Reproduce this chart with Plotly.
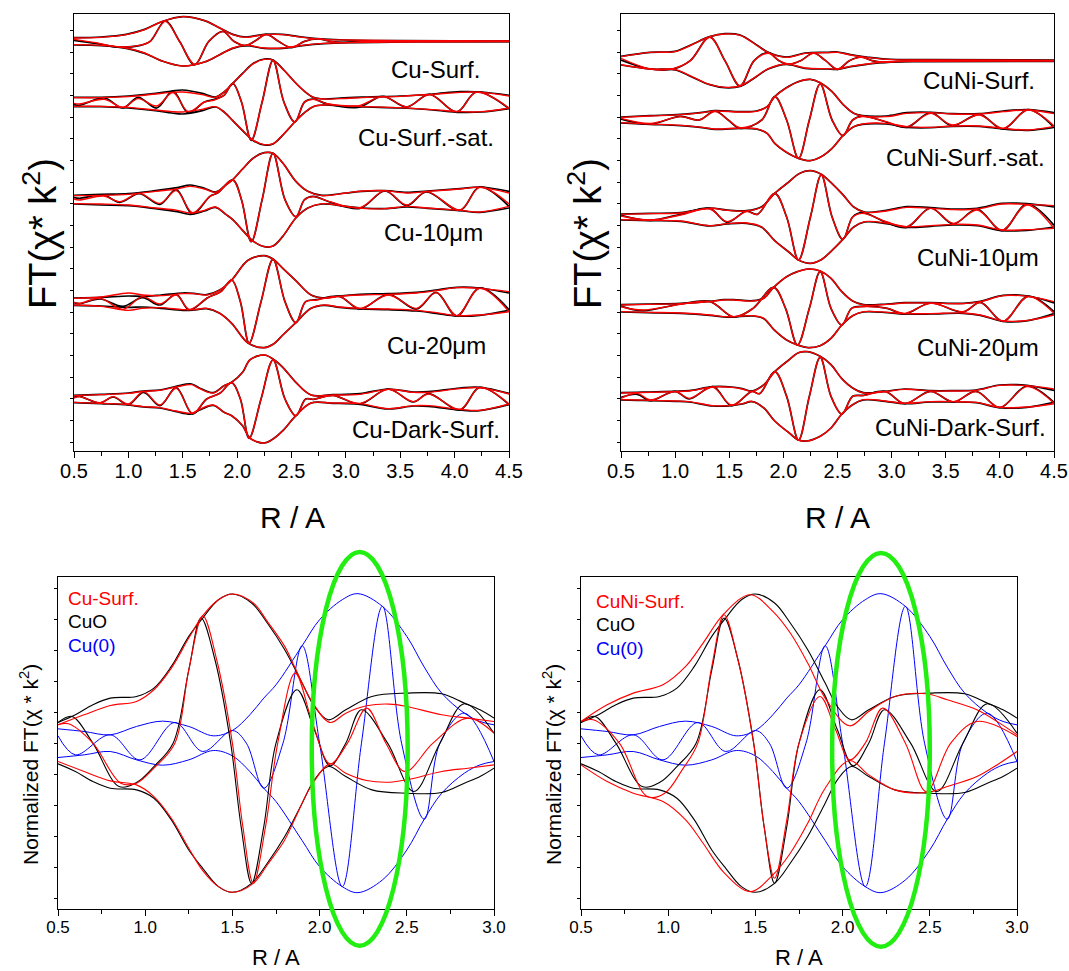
import plotly.graph_objects as go

W, H = 1069, 971
FONT = "Arial, 'Liberation Sans', Helvetica, sans-serif"

# ------------------------------------------------------------------
# TOP PANELS  (|FT| envelope and Im part, arbitrary units, per sample)
# each list: (R, value)
# ------------------------------------------------------------------
CU_LABELS = ["Cu-Surf.", "Cu-Surf.-sat.", "Cu-10\u03bcm", "Cu-20\u03bcm", "Cu-Dark-Surf."]
CU_OFFSETS = [1229, 1047, 754, 448, 156]

CUNI_LABELS = ["CuNi-Surf.", "CuNi-Surf.-sat.", "CuNi-10\u03bcm", "CuNi-20\u03bcm", "CuNi-Dark-Surf."]
CUNI_OFFSETS = [1171, 993, 702, 428, 164]

# ---- Cu-Surf. ----
cs_env_dat = [(0.50,11),(0.75,13),(0.98,21),(1.15,36),(1.30,58),(1.50,74),(1.70,62),(1.84,40),(1.96,21),(2.08,13),(2.25,21),(2.42,21),(2.60,13),(2.80,7),(3.00,4),(3.50,2),(4.50,1)]
cs_im_dat = [(0.50,3),(0.70,-6),(0.90,-17),(1.10,-13),(1.20,0),(1.34,61),(1.47,0),(1.61,-70),(1.74,0),(1.87,30),(1.97,0),(2.08,-13),(2.16,0),(2.27,21),(2.38,0),(2.50,-19),(2.62,0),(2.74,7),(2.86,0),(2.98,-3),(3.20,0),(4.50,0)]
cs_env_fit = [(0.50,10),(0.75,12),(0.98,20),(1.15,35),(1.30,58),(1.50,74),(1.70,62),(1.84,40),(1.96,20),(2.08,12),(2.25,20),(2.42,20),(2.60,12),(2.80,6),(3.00,4),(3.50,2),(4.50,1)]
cs_im_fit = [(0.50,6),(0.70,-4),(0.90,-16),(1.10,-12),(1.20,0),(1.34,60),(1.47,0),(1.61,-69),(1.74,0),(1.87,29),(1.97,0),(2.08,-12),(2.16,0),(2.27,20),(2.38,0),(2.50,-18),(2.62,0),(2.74,8),(2.86,0),(2.98,-4),(3.20,0),(4.50,0)]

# ---- Cu-Surf.-sat. ----
css_env_dat = [(0.50,14),(0.75,14),(1.00,18),(1.25,26),(1.40,33),(1.50,36),(1.68,26),(1.80,15),(1.88,30),(1.96,56),(2.05,86),(2.15,116),(2.25,129),(2.33,126),(2.43,96),(2.53,60),(2.62,32),(2.70,14),(2.80,9),(2.95,12),(3.20,15),(3.50,18),(3.80,24),(4.05,31),(4.25,30),(4.50,20)]
css_im_dat = [(0.50,-8),(0.55,-10),(0.78,12),(0.95,-18),(1.09,14),(1.26,-18),(1.41,33),(1.55,-32),(1.70,0),(1.79,8),(1.88,20),(1.96,56),(2.04,0),(2.13,-115),(2.23,0),(2.33,125),(2.43,0),(2.53,-60),(2.62,0),(2.70,9),(2.82,-5),(3.11,-16),(3.34,17),(3.56,-15),(3.77,23),(4.02,-30),(4.20,30),(4.50,-20)]
css_env_fit = [(0.50,13),(0.75,13),(1.00,16),(1.25,24),(1.40,29),(1.50,30),(1.68,22),(1.80,14),(1.88,30),(1.96,56),(2.05,85),(2.15,115),(2.25,128),(2.33,125),(2.43,95),(2.53,60),(2.62,32),(2.70,14),(2.80,9),(2.95,10),(3.20,14),(3.50,17),(3.80,23),(4.05,29),(4.25,29),(4.50,18)]
css_im_fit = [(0.50,-4),(0.55,-6),(0.78,8),(0.95,-16),(1.09,10),(1.26,-12),(1.41,28),(1.55,-29),(1.70,0),(1.79,6),(1.88,20),(1.96,56),(2.04,0),(2.13,-114),(2.23,0),(2.33,124),(2.43,0),(2.53,-60),(2.62,0),(2.70,8),(2.82,-4),(3.11,-12),(3.34,16),(3.56,-14),(3.77,22),(4.02,-29),(4.20,29),(4.50,-18)]

# ---- Cu-10um ----
c10_env_dat = [(0.50,13),(0.75,16),(1.00,18),(1.25,27),(1.45,36),(1.57,44),(1.70,34),(1.80,23),(1.90,45),(1.96,60),(2.05,92),(2.15,125),(2.25,141),(2.33,139),(2.42,110),(2.54,55),(2.65,25),(2.78,13),(3.00,20),(3.15,25),(3.36,27),(3.56,22),(3.75,26),(4.05,33),(4.23,38),(4.50,25)]
c10_im_dat = [(0.50,6),(0.55,4),(0.77,14),(0.92,-8),(1.10,18),(1.29,-14),(1.44,30),(1.59,-43),(1.75,10),(1.82,20),(1.96,59),(2.04,0),(2.13,-126),(2.23,0),(2.33,139),(2.44,0),(2.54,-51),(2.62,0),(2.70,10),(2.85,-7),(3.13,-26),(3.36,26),(3.56,-18),(3.74,23),(4.05,-32),(4.23,38),(4.50,-20)]
c10_env_fit = [(0.50,12),(0.75,13),(1.00,16),(1.25,25),(1.45,32),(1.57,40),(1.70,32),(1.80,22),(1.90,45),(1.96,60),(2.05,92),(2.15,125),(2.25,141),(2.33,139),(2.42,110),(2.54,55),(2.65,25),(2.78,12),(3.00,20),(3.15,26),(3.36,27),(3.56,20),(3.75,25),(4.05,32),(4.23,37),(4.50,20)]
c10_im_fit = [(0.50,2),(0.55,-1),(0.77,11),(0.92,-6),(1.10,19),(1.29,-11),(1.44,27),(1.59,-39),(1.75,10),(1.82,20),(1.96,59),(2.04,0),(2.13,-126),(2.23,0),(2.33,139),(2.44,0),(2.54,-51),(2.62,0),(2.70,9),(2.85,-6),(3.13,-24),(3.36,27),(3.56,-16),(3.74,24),(4.05,-31),(4.23,37),(4.50,-13)]

# ---- Cu-20um ----
c20_env_dat = [(0.50,11),(0.75,13),(1.00,17),(1.13,16),(1.30,20),(1.50,26),(1.60,25),(1.72,21),(1.84,35),(1.95,65),(2.10,124),(2.25,138),(2.33,128),(2.42,100),(2.54,63),(2.68,20),(2.80,11),(2.94,17),(3.13,22),(3.39,24),(3.65,28),(3.83,35),(4.02,43),(4.23,41),(4.50,26)]
c20_im_dat = [(0.50,-3),(0.55,-6),(0.74,8),(0.95,-14),(1.13,12),(1.29,-10),(1.44,22),(1.56,-25),(1.73,12),(1.85,30),(1.95,65),(2.03,0),(2.11,-124),(2.22,0),(2.33,127),(2.44,0),(2.54,-63),(2.63,0),(2.73,6),(2.94,16),(3.13,-22),(3.39,22),(3.65,-22),(3.83,28),(4.02,-43),(4.23,41),(4.50,-24)]
c20_env_fit = [(0.50,10),(0.75,14),(1.00,26),(1.13,20),(1.30,18),(1.50,24),(1.60,24),(1.72,20),(1.84,35),(1.95,65),(2.10,124),(2.25,138),(2.33,128),(2.42,100),(2.54,63),(2.68,20),(2.80,10),(2.94,16),(3.13,20),(3.39,22),(3.65,26),(3.83,33),(4.02,42),(4.23,40),(4.50,30)]
c20_im_fit = [(0.50,-2),(0.55,-5),(0.74,10),(0.95,-23),(1.13,15),(1.29,-7),(1.44,20),(1.56,-23),(1.73,12),(1.85,30),(1.95,65),(2.03,0),(2.11,-124),(2.22,0),(2.33,127),(2.44,0),(2.54,-63),(2.63,0),(2.73,5),(2.94,15),(3.13,-20),(3.39,20),(3.65,-20),(3.83,27),(4.02,-42),(4.23,40),(4.50,-30)]

# ---- Cu-Dark-Surf. ----
cd_env_dat = [(0.50,11),(0.75,14),(1.00,18),(1.14,24),(1.29,27),(1.44,38),(1.58,45),(1.65,34),(1.78,19),(1.88,40),(1.95,50),(2.05,80),(2.12,118),(2.25,132),(2.33,120),(2.42,95),(2.54,50),(2.68,12),(2.88,13),(3.13,16),(3.39,30),(3.62,21),(3.76,22),(4.05,33),(4.23,35),(4.50,17)]
cd_im_dat = [(0.50,5),(0.55,8),(0.74,-12),(0.86,6),(1.00,-17),(1.14,20),(1.29,-20),(1.44,34),(1.59,-45),(1.72,0),(1.84,17),(1.95,49),(2.03,0),(2.11,-118),(2.22,0),(2.33,117),(2.44,0),(2.54,-50),(2.63,0),(2.70,-1),(2.88,11),(3.13,-15),(3.39,30),(3.62,-9),(3.76,16),(4.05,-33),(4.23,35),(4.50,-17)]
cd_env_fit = [(0.50,10),(0.75,13),(1.00,17),(1.14,23),(1.29,26),(1.44,36),(1.58,43),(1.65,32),(1.78,18),(1.88,40),(1.95,50),(2.05,80),(2.12,118),(2.25,132),(2.33,120),(2.42,95),(2.54,50),(2.68,12),(2.88,12),(3.13,14),(3.39,29),(3.62,20),(3.76,20),(4.05,31),(4.23,34),(4.50,15)]
cd_im_fit = [(0.50,3),(0.55,7),(0.74,-11),(0.86,7),(1.00,-15),(1.14,22),(1.29,-18),(1.44,32),(1.59,-43),(1.72,0),(1.84,17),(1.95,49),(2.03,0),(2.11,-118),(2.22,0),(2.33,117),(2.44,0),(2.54,-50),(2.63,0),(2.70,-1),(2.88,10),(3.13,-13),(3.39,29),(3.62,-8),(3.76,15),(4.05,-31),(4.23,34),(4.50,-15)]

# ---- CuNi-Surf. ----
ns_env_dat = [(0.50,13),(0.77,25),(1.00,28),(1.15,48),(1.32,72),(1.46,81),(1.60,77),(1.75,48),(1.86,25),(2.03,11),(2.20,23),(2.40,25),(2.50,26),(2.62,18),(2.77,11),(2.95,5),(3.30,3),(4.50,2)]
ns_im_dat = [(0.50,2),(0.77,-25),(0.98,-25),(1.14,0),(1.32,71),(1.46,0),(1.60,-76),(1.73,0),(1.86,24),(1.96,0),(2.05,-11),(2.16,0),(2.28,23),(2.39,0),(2.50,-26),(2.61,0),(2.72,11),(2.82,0),(2.92,-5),(3.20,0),(4.50,-1)]
ns_env_fit = [(0.50,12),(0.77,25),(1.00,27),(1.15,47),(1.32,72),(1.46,80),(1.60,76),(1.75,47),(1.86,24),(2.03,10),(2.20,22),(2.40,24),(2.50,25),(2.62,17),(2.77,10),(2.95,4),(3.30,2),(4.50,1)]
ns_im_fit = [(0.50,7),(0.77,-25),(0.98,-24),(1.14,0),(1.32,70),(1.46,0),(1.60,-75),(1.73,0),(1.86,22),(1.96,0),(2.05,-10),(2.16,0),(2.28,22),(2.39,0),(2.50,-25),(2.61,0),(2.72,10),(2.82,0),(2.92,-4),(3.20,0),(4.50,0)]

# ---- CuNi-Surf.-sat. ----
nss_env_dat = [(0.50,9),(0.77,13),(1.05,17),(1.25,23),(1.37,28),(1.60,25),(1.75,27),(1.85,40),(1.92,70),(2.02,95),(2.14,115),(2.25,122),(2.34,112),(2.45,85),(2.55,47),(2.65,20),(2.73,13),(2.95,12),(3.14,22),(3.36,23),(3.56,19),(3.81,19),(4.03,27),(4.26,31),(4.50,22)]
nss_im_dat = [(0.50,3),(0.77,-12),(1.05,11),(1.22,0),(1.37,27),(1.49,0),(1.60,-25),(1.80,0),(1.92,70),(2.03,0),(2.14,-115),(2.24,0),(2.34,108),(2.45,0),(2.55,-47),(2.64,0),(2.73,12),(2.95,-6),(3.14,-22),(3.36,22),(3.56,-17),(3.81,17),(4.03,-27),(4.26,31),(4.50,-22)]
nss_env_fit = [(0.50,8),(0.77,12),(1.05,16),(1.25,22),(1.37,27),(1.60,24),(1.75,26),(1.85,40),(1.92,70),(2.02,95),(2.14,115),(2.25,122),(2.34,112),(2.45,85),(2.55,47),(2.65,20),(2.73,12),(2.95,10),(3.14,20),(3.36,22),(3.56,18),(3.81,18),(4.03,25),(4.26,30),(4.50,19)]
nss_im_fit = [(0.50,5),(0.77,-10),(1.05,10),(1.22,0),(1.37,25),(1.49,0),(1.60,-23),(1.80,0),(1.92,70),(2.03,0),(2.14,-115),(2.24,0),(2.34,108),(2.45,0),(2.55,-47),(2.64,0),(2.73,10),(2.95,-5),(3.14,-20),(3.36,20),(3.56,-15),(3.81,15),(4.03,-25),(4.26,30),(4.50,-18)]

# ---- CuNi-10um ----
n10_env_dat = [(0.50,9),(0.77,11),(1.05,13),(1.32,27),(1.48,21),(1.66,19),(1.80,31),(1.92,71),(2.05,105),(2.14,129),(2.25,139),(2.35,128),(2.45,100),(2.55,67),(2.65,30),(2.75,15),(2.95,20),(3.14,31),(3.36,28),(3.57,24),(3.79,26),(4.02,41),(4.25,40),(4.50,30)]
n10_im_dat = [(0.50,5),(0.77,-10),(1.05,8),(1.32,26),(1.48,-16),(1.66,18),(1.76,8),(1.92,71),(2.03,0),(2.14,-129),(2.25,0),(2.35,126),(2.45,0),(2.55,-67),(2.64,0),(2.73,13),(2.95,-16),(3.14,-31),(3.36,27),(3.57,-21),(3.79,24),(4.02,-41),(4.25,39),(4.50,-25)]
n10_env_fit = [(0.50,8),(0.77,10),(1.05,12),(1.32,26),(1.48,20),(1.66,18),(1.80,30),(1.92,71),(2.05,105),(2.14,129),(2.25,139),(2.35,128),(2.45,100),(2.55,67),(2.65,30),(2.75,14),(2.95,18),(3.14,29),(3.36,26),(3.57,22),(3.79,24),(4.02,39),(4.25,38),(4.50,34)]
n10_im_fit = [(0.50,3),(0.77,-9),(1.05,6),(1.32,24),(1.48,-14),(1.66,16),(1.76,8),(1.92,71),(2.03,0),(2.14,-129),(2.25,0),(2.35,126),(2.45,0),(2.55,-67),(2.64,0),(2.73,11),(2.95,-14),(3.14,-29),(3.36,26),(3.57,-19),(3.79,21),(4.02,-39),(4.25,36),(4.50,-34)]

# ---- CuNi-20um ----
n20_env_dat = [(0.50,11),(0.75,13),(1.05,15),(1.32,21),(1.45,26),(1.54,26),(1.72,23),(1.82,31),(1.91,63),(2.03,95),(2.13,110),(2.23,118),(2.34,112),(2.44,90),(2.54,50),(2.64,22),(2.74,11),(2.96,13),(3.12,17),(3.36,17),(3.66,15),(3.82,21),(4.03,39),(4.26,37),(4.50,16)]
n20_im_dat = [(0.50,7),(0.70,-7),(1.05,13),(1.32,21),(1.54,-26),(1.72,0),(1.91,63),(2.02,0),(2.13,-110),(2.24,0),(2.34,110),(2.44,0),(2.54,-50),(2.63,0),(2.74,6),(2.96,0),(3.12,-17),(3.36,16),(3.66,-11),(3.82,18),(4.03,-39),(4.26,36),(4.50,-10)]
n20_env_fit = [(0.50,10),(0.75,12),(1.05,14),(1.32,20),(1.45,25),(1.54,25),(1.72,22),(1.82,30),(1.91,63),(2.03,95),(2.13,110),(2.23,118),(2.34,112),(2.44,90),(2.54,50),(2.64,22),(2.74,10),(2.96,12),(3.12,16),(3.36,16),(3.66,14),(3.82,20),(4.03,38),(4.26,36),(4.50,20)]
n20_im_fit = [(0.50,5),(0.70,-5),(1.05,12),(1.32,20),(1.54,-25),(1.72,0),(1.91,63),(2.02,0),(2.13,-110),(2.24,0),(2.34,110),(2.44,0),(2.54,-50),(2.63,0),(2.74,5),(2.96,0),(3.12,-15),(3.36,15),(3.66,-10),(3.82,17),(4.03,-38),(4.26,35),(4.50,-15)]

# ---- CuNi-Dark-Surf. ----
nd_env_dat = [(0.50,11),(0.65,12),(0.77,13),(1.00,15),(1.13,17),(1.35,29),(1.52,28),(1.62,23),(1.71,16),(1.82,35),(1.92,74),(2.05,109),(2.14,131),(2.22,134),(2.34,120),(2.44,95),(2.54,53),(2.64,25),(2.74,11),(2.94,15),(3.12,22),(3.36,17),(3.57,17),(3.78,19),(4.00,34),(4.25,33),(4.50,18)]
nd_im_dat = [(0.50,-3),(0.65,6),(0.77,-13),(1.00,15),(1.13,-8),(1.35,29),(1.52,-28),(1.71,15),(1.78,8),(1.92,74),(2.03,0),(2.14,-131),(2.24,0),(2.34,117),(2.44,0),(2.54,-53),(2.64,0),(2.74,3),(2.94,15),(3.12,-22),(3.36,15),(3.57,-17),(3.78,15),(4.00,-34),(4.25,31),(4.50,-18)]
nd_env_fit = [(0.50,10),(0.65,11),(0.77,12),(1.00,14),(1.13,16),(1.35,28),(1.52,27),(1.62,22),(1.71,15),(1.82,35),(1.92,74),(2.05,109),(2.14,131),(2.22,134),(2.34,120),(2.44,95),(2.54,53),(2.64,25),(2.74,10),(2.94,14),(3.12,21),(3.36,16),(3.57,16),(3.78,18),(4.00,33),(4.25,32),(4.50,22)]
nd_im_fit = [(0.50,-6),(0.65,9),(0.77,-11),(1.00,14),(1.13,-6),(1.35,27),(1.52,-26),(1.71,14),(1.78,8),(1.92,74),(2.03,0),(2.14,-131),(2.24,0),(2.34,117),(2.44,0),(2.54,-53),(2.64,0),(2.74,2),(2.94,14),(3.12,-21),(3.36,14),(3.57,-16),(3.78,14),(4.00,-33),(4.25,29),(4.50,-21)]

CU_SERIES = [
    (cs_env_dat, cs_im_dat, cs_env_fit, cs_im_fit),
    (css_env_dat, css_im_dat, css_env_fit, css_im_fit),
    (c10_env_dat, c10_im_dat, c10_env_fit, c10_im_fit),
    (c20_env_dat, c20_im_dat, c20_env_fit, c20_im_fit),
    (cd_env_dat, cd_im_dat, cd_env_fit, cd_im_fit),
]
CUNI_SERIES = [
    (ns_env_dat, ns_im_dat, ns_env_fit, ns_im_fit),
    (nss_env_dat, nss_im_dat, nss_env_fit, nss_im_fit),
    (n10_env_dat, n10_im_dat, n10_env_fit, n10_im_fit),
    (n20_env_dat, n20_im_dat, n20_env_fit, n20_im_fit),
    (nd_env_dat, nd_im_dat, nd_env_fit, nd_im_fit),
]

# ------------------------------------------------------------------
# BOTTOM PANELS (normalized FT, arbitrary units)
# ------------------------------------------------------------------
cu0_env = [(0.50,43),(0.65,35),(0.80,25),(0.95,50),(1.10,66),(1.25,50),(1.39,22),(1.50,38),(1.60,85),(1.68,135),(1.75,175),(1.90,292),(2.00,370),(2.13,430),(2.22,448),(2.36,410),(2.50,320),(2.60,228),(2.70,150),(2.83,90),(2.92,65),(3.00,55)]
cu0_im = [(0.50,22),(0.60,-35),(0.80,25),(0.97,-50),(1.17,62),(1.33,-25),(1.50,38),(1.58,0),(1.68,-135),(1.79,0),(1.90,292),(2.00,0),(2.13,-430),(2.24,0),(2.36,410),(2.47,0),(2.60,-228),(2.69,0),(2.83,90),(3.00,-55)]

cuo_env = [(0.50,62),(0.60,85),(0.70,115),(0.80,135),(0.95,140),(1.05,165),(1.15,230),(1.25,320),(1.33,375),(1.42,430),(1.50,447),(1.61,420),(1.70,360),(1.80,280),(1.90,180),(1.97,110),(2.05,70),(2.15,100),(2.30,140),(2.50,150),(2.70,148),(2.83,120),(2.92,100),(3.00,75)]
cuo_im = [(0.50,62),(0.58,80),(0.70,0),(0.85,-130),(0.95,-118),(1.05,-70),(1.16,0),(1.25,220),(1.32,375),(1.40,250),(1.49,0),(1.55,-250),(1.61,-420),(1.68,-250),(1.75,0),(1.87,160),(1.97,40),(2.06,-68),(2.15,0),(2.24,100),(2.39,0),(2.54,-145),(2.69,0),(2.83,118),(3.00,30)]

cusurf_env = [(0.50,55),(0.65,85),(0.80,113),(0.95,125),(1.05,160),(1.15,225),(1.25,315),(1.33,382),(1.42,430),(1.50,447),(1.62,420),(1.70,365),(1.80,290),(1.86,225),(1.95,130),(2.06,62),(2.15,90),(2.27,112),(2.40,117),(2.50,110),(2.70,85),(2.85,75),(3.00,65)]
cusurf_im = [(0.50,55),(0.56,58),(0.70,0),(0.86,-120),(0.95,-120),(1.05,-75),(1.17,0),(1.25,220),(1.33,382),(1.41,250),(1.50,0),(1.56,-250),(1.62,-420),(1.69,-250),(1.76,0),(1.86,210),(1.96,60),(2.06,-62),(2.16,0),(2.27,105),(2.38,0),(2.49,-85),(2.65,0),(2.85,75),(3.00,30)]

cunisurf_env = [(0.50,65),(0.65,115),(0.80,150),(0.97,175),(1.10,230),(1.20,300),(1.32,388),(1.47,445),(1.60,395),(1.70,330),(1.80,240),(1.90,135),(2.04,52),(2.15,95),(2.30,140),(2.48,148),(2.60,130),(2.77,100),(2.90,60),(3.00,25)]
cunisurf_im = [(0.50,65),(0.57,70),(0.72,0),(0.88,-160),(0.98,-150),(1.08,-80),(1.17,0),(1.25,230),(1.32,385),(1.40,250),(1.49,0),(1.55,-250),(1.61,-405),(1.68,-230),(1.75,0),(1.87,140),(1.96,40),(2.04,-50),(2.13,0),(2.23,105),(2.36,0),(2.48,-145),(2.62,0),(2.77,65),(3.00,20)]

# green ellipse (data units of the lower panels): center R, half-width, center y, half-height
ELLIPSE_L = (2.23, 0.275, -17, 590)
ELLIPSE_R = (2.22, 0.28, -20, 590)

# ------------------------------------------------------------------
# Layout geometry (paper domains)
# ------------------------------------------------------------------
def px_dom_x(a, b):
    return [a / W, b / W]

def px_dom_y(top, bottom):
    return [1 - bottom / H, 1 - top / H]

DOM = {
    1: (px_dom_x(74, 509), px_dom_y(14, 451)),
    2: (px_dom_x(621, 1054), px_dom_y(14, 451)),
    3: (px_dom_x(58, 494), px_dom_y(577, 909)),
    4: (px_dom_x(581, 1017), px_dom_y(577, 909)),
}
XR_TOP = [0.5, 4.5]
YR_TOP = [0, 1311]
XR_BOT = [0.5, 3.0]
YR_BOT = [-497, 498]

fig = go.Figure()


def xy(pairs):
    return [p[0] for p in pairs], [p[1] for p in pairs]


def add_line(x, y, color, width, n):
    fig.add_trace(go.Scatter(
        x=x, y=y, mode="lines", line=dict(color=color, width=width, shape="spline", smoothing=1.0),
        xaxis="x" if n == 1 else f"x{n}", yaxis="y" if n == 1 else f"y{n}",
        showlegend=False, hoverinfo="skip"))


def add_ft(env, im, offset, color, width, n):
    xe, me = xy(env)
    add_line(xe, [offset + v for v in me], color, width, n)
    add_line(xe, [offset - v for v in me], color, width, n)
    xi, vi = xy(im)
    add_line(xi, [offset + v for v in vi], color, width, n)


for n, series, offsets in [(1, CU_SERIES, CU_OFFSETS), (2, CUNI_SERIES, CUNI_OFFSETS)]:
    for (env_d, im_d, env_f, im_f), off in zip(series, offsets):
        add_ft(env_d, im_d, off, "black", 1.7, n)
    for (env_d, im_d, env_f, im_f), off in zip(series, offsets):
        add_ft(env_f, im_f, off, "#ff0000", 1.4, n)

for n, sample_env, sample_im in [(3, cusurf_env, cusurf_im), (4, cunisurf_env, cunisurf_im)]:
    add_ft(cu0_env, cu0_im, 0, "#0000ff", 1.0, n)
    add_ft(cuo_env, cuo_im, 0, "black", 1.1, n)
    add_ft(sample_env, sample_im, 0, "#ff0000", 1.1, n)

axis_common = dict(showline=True, linecolor="black", linewidth=1.4, mirror=True, automargin=False,
                   showgrid=False, zeroline=False, ticks="outside", tickcolor="black")

layout = dict(width=W, height=H, margin=dict(l=0, r=0, t=0, b=0, autoexpand=False),
              template="none",
              plot_bgcolor="white", paper_bgcolor="white", showlegend=False,
              font=dict(family=FONT, color="black"))

for n in (1, 2, 3, 4):
    xd, yd = DOM[n]
    xk = "xaxis" if n == 1 else f"xaxis{n}"
    yk = "yaxis" if n == 1 else f"yaxis{n}"
    xname = "x" if n == 1 else f"x{n}"
    yname = "y" if n == 1 else f"y{n}"
    top = n in (1, 2)
    layout[xk] = dict(axis_common, domain=xd, anchor=yname,
                      range=XR_TOP if top else XR_BOT,
                      tickmode="linear", tick0=0.5, dtick=0.5, tickformat=".1f",
                      ticklen=6, tickwidth=1.2, ticklabelstandoff=-4,
                      tickfont=dict(size=20 if top else 17, family=FONT, color="black"),
                      minor=dict(ticks="outside", dtick=0.25, ticklen=4, tickcolor="black", tickwidth=1.2))
    layout[yk] = dict(axis_common, domain=yd, anchor=xname,
                      range=YR_TOP if top else YR_BOT,
                      showticklabels=False, tickmode="linear",
                      tick0=27 if top else 0, dtick=65 if top else 93,
                      ticklen=3, tickwidth=1.2)

fig.update_layout(**layout)

ann = []
# series labels (top panels)
cu_label_px = [(482, 70), (496, 137), (485, 233), (488, 345), (502, 430)]
cuni_label_px = [(1037, 80), (1047, 157), (1041, 257), (1041, 347), (1048, 427)]
for labels, pos in [(CU_LABELS, cu_label_px), (CUNI_LABELS, cuni_label_px)]:
    for t, (px, py) in zip(labels, pos):
        ann.append(dict(x=px / W, y=1 - py / H, xref="paper", yref="paper", text=t,
                        showarrow=False, xanchor="right", yanchor="middle",
                        font=dict(size=24, family=FONT, color="black")))

# axis titles
for cx in (292, 837):
    ann.append(dict(x=cx / W, y=1 - 517 / H, xref="paper", yref="paper", text="R / A",
                    showarrow=False, xanchor="center", yanchor="middle",
                    font=dict(size=30, family=FONT, color="black")))
for cx in (276, 799):
    ann.append(dict(x=cx / W, y=0, xref="paper", yref="paper", text="R / A",
                    showarrow=False, xanchor="center", yanchor="bottom", borderpad=0,
                    font=dict(size=22, family=FONT, color="black")))
for cx in (40, 585):
    ann.append(dict(x=cx / W, y=1 - 234 / H, xref="paper", yref="paper",
                    text="FT(\u03c7* k<sup>2</sup>)", textangle=-90,
                    showarrow=False, xanchor="center", yanchor="middle",
                    font=dict(size=38, family=FONT, color="black")))
for cx in (29, 552):
    ann.append(dict(x=cx / W, y=1 - 765 / H, xref="paper", yref="paper",
                    text="Normalized FT(\u03c7 * k<sup>2</sup>)", textangle=-90,
                    showarrow=False, xanchor="center", yanchor="middle",
                    font=dict(size=21, family=FONT, color="black")))

# legends in lower panels
for (lx, names, ys) in [(66, ["Cu-Surf.", "CuO", "Cu(0)"], [598, 621, 645]),
                        (594, ["CuNi-Surf.", "CuO", "Cu(0)"], [601, 624, 648])]:
    for name, col, yy in zip(names, ["#ff0000", "black", "#0000ff"], ys):
        ann.append(dict(x=lx / W, y=1 - yy / H, xref="paper", yref="paper", text=name,
                        showarrow=False, xanchor="left", yanchor="middle",
                        font=dict(size=19, family=FONT, color=col)))

fig.update_layout(annotations=ann)

# green ellipses (converted from lower-panel data units to paper coordinates)
def to_paper(n, xv, yv):
    xd, yd = DOM[n]
    px = xd[0] + (xv - XR_BOT[0]) / (XR_BOT[1] - XR_BOT[0]) * (xd[1] - xd[0])
    py = yd[0] + (yv - YR_BOT[0]) / (YR_BOT[1] - YR_BOT[0]) * (yd[1] - yd[0])
    return px, py

shapes = []
for n, (cx, hw, cy, hh) in [(3, ELLIPSE_L), (4, ELLIPSE_R)]:
    x0, y0 = to_paper(n, cx - hw, cy - hh)
    x1, y1 = to_paper(n, cx + hw, cy + hh)
    shapes.append(dict(type="circle", xref="paper", yref="paper", x0=x0, x1=x1, y0=y0, y1=y1,
                       line=dict(color="#22ee11", width=4.5), layer="above"))
fig.update_layout(shapes=shapes)

fig.write_html("out.html", config={"displayModeBar": False},
               post_script="document.body.style.margin='0';document.body.style.padding='0';")
